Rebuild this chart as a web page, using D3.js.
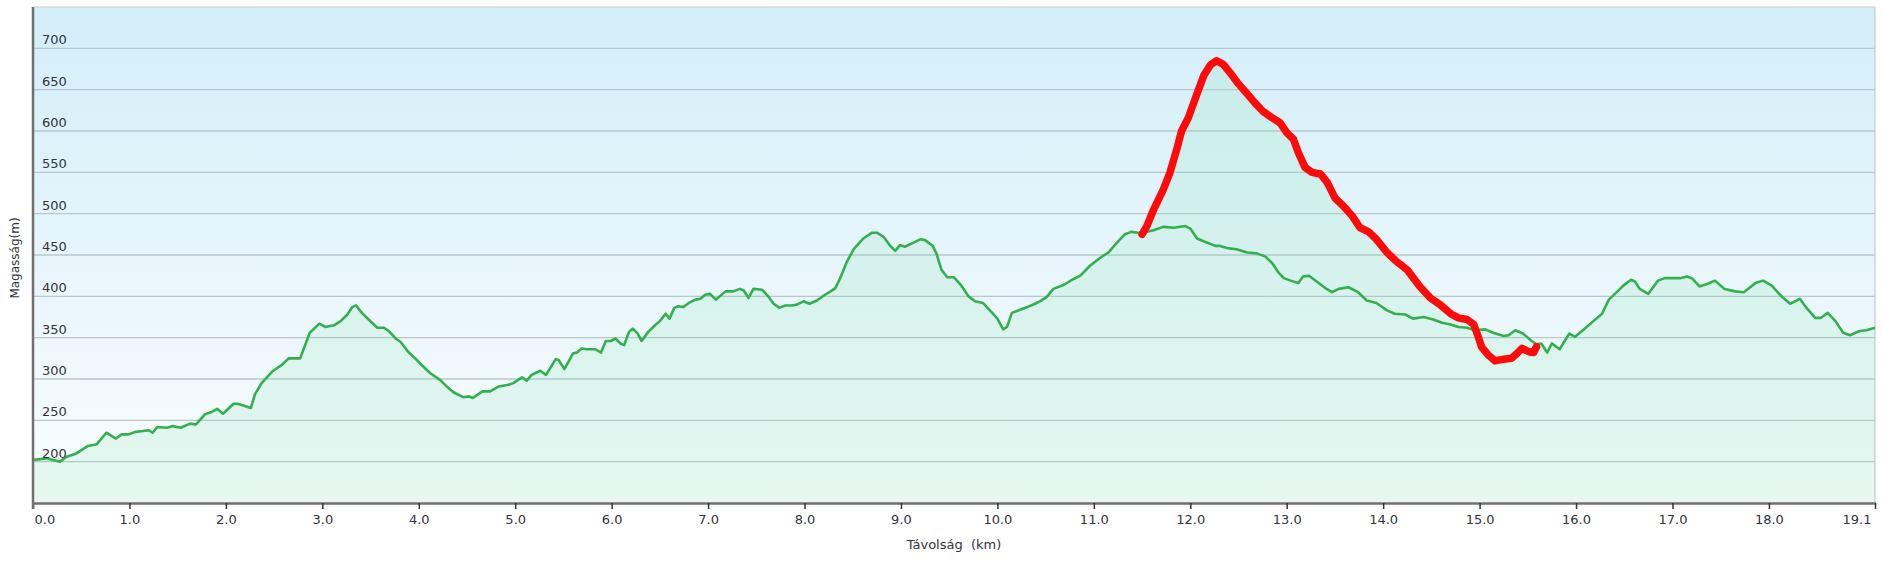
<!DOCTYPE html>
<html>
<head>
<meta charset="utf-8">
<script src="https://cdn.jsdelivr.net/npm/d3@7"></script>
<style>
  html, body { margin: 0; padding: 0; background: #ffffff; }
  svg { display: block; }
  text { font-family: "DejaVu Sans", Verdana, sans-serif; fill: #333340; }
</style>
</head>
<body>
<div id="chart"></div>
<script>
// ---- data ----
const greenKm = [0.00,0.14,0.28,0.35,0.45,0.57,0.66,0.76,0.86,0.92,0.99,1.06,1.14,1.20,1.24,1.29,1.39,1.45,1.53,1.63,1.69,1.78,1.85,1.91,1.97,2.08,2.12,2.18,2.26,2.30,2.37,2.49,2.58,2.65,2.70,2.77,2.87,2.97,3.03,3.12,3.19,3.26,3.31,3.35,3.41,3.48,3.57,3.64,3.69,3.76,3.81,3.89,3.98,4.03,4.12,4.22,4.29,4.36,4.46,4.52,4.56,4.66,4.74,4.83,4.93,4.98,5.07,5.12,5.17,5.26,5.32,5.42,5.45,5.51,5.60,5.64,5.69,5.74,5.83,5.89,5.94,5.99,6.04,6.09,6.13,6.18,6.22,6.27,6.31,6.38,6.45,6.50,6.56,6.60,6.65,6.69,6.74,6.80,6.87,6.92,6.97,7.02,7.08,7.18,7.26,7.33,7.37,7.42,7.47,7.56,7.63,7.68,7.74,7.80,7.87,7.92,7.99,8.05,8.13,8.20,8.27,8.32,8.37,8.44,8.51,8.61,8.70,8.75,8.82,8.89,8.94,8.99,9.04,9.13,9.20,9.25,9.33,9.37,9.42,9.48,9.55,9.62,9.70,9.77,9.85,9.93,10.00,10.06,10.10,10.15,10.24,10.31,10.39,10.44,10.51,10.58,10.69,10.79,10.86,10.96,11.07,11.15,11.24,11.32,11.39,11.46,11.55,11.62,11.72,11.83,11.95,12.00,12.07,12.15,12.26,12.31,12.40,12.48,12.59,12.69,12.78,12.85,12.92,12.97,13.04,13.12,13.17,13.23,13.31,13.40,13.47,13.54,13.64,13.74,13.83,13.93,14.04,14.12,14.23,14.31,14.42,14.52,14.61,14.70,14.78,14.87,14.95,15.06,15.14,15.25,15.30,15.37,15.45,15.54,15.59,15.64,15.70,15.75,15.83,15.93,15.99,16.08,16.18,16.27,16.34,16.43,16.49,16.57,16.61,16.66,16.75,16.85,16.92,17.08,17.15,17.20,17.28,17.36,17.44,17.54,17.65,17.74,17.86,17.94,18.03,18.13,18.22,18.32,18.39,18.48,18.54,18.61,18.69,18.77,18.84,18.94,19.01,19.10];
const greenElev = [202,204,200,206,210,219,221,235,228,233,233,236,237,238,235,242,241,243,241,246,245,257,260,264,258,270,270,268,265,281,295,310,317,325,325,325,356,367,363,365,370,378,387,389,380,372,362,362,358,349,345,333,323,317,307,299,291,284,278,279,277,285,285,291,293,295,302,298,305,310,305,324,323,312,331,332,337,336,336,332,346,346,349,343,341,357,361,355,346,357,365,370,379,373,386,388,387,392,396,397,402,403,396,406,406,409,407,398,409,408,399,391,386,389,389,390,394,391,395,401,406,410,422,442,457,470,477,477,472,461,455,462,460,465,469,468,461,451,432,423,423,414,400,394,392,382,373,360,363,380,384,387,391,394,399,409,414,421,425,437,447,453,465,475,478,477,478,480,484,483,485,482,470,466,461,461,458,457,453,452,448,440,428,422,419,416,424,425,418,410,405,409,411,405,395,392,383,379,378,373,375,372,368,366,363,362,359,360,356,352,353,359,355,346,342,343,332,343,336,355,351,360,370,379,396,406,413,420,418,409,403,419,422,422,424,422,412,415,419,409,406,405,416,419,413,400,391,397,386,374,374,380,370,356,353,358,359,362];

const redKm = [11.50,11.55,11.62,11.72,11.79,11.86,11.91,11.98,12.07,12.14,12.21,12.27,12.34,12.41,12.50,12.59,12.67,12.76,12.85,12.93,13.00,13.07,13.12,13.19,13.26,13.35,13.42,13.50,13.59,13.68,13.76,13.85,13.93,14.04,14.14,14.25,14.38,14.49,14.59,14.70,14.78,14.87,14.94,14.98,15.02,15.09,15.16,15.25,15.33,15.38,15.44,15.51,15.56,15.59];
const redElev = [475,485,505,529,550,578,600,616,645,667,680,685,681,671,657,645,634,623,616,610,598,590,574,556,550,548,538,519,509,497,483,478,469,453,442,432,412,398,390,379,374,372,366,353,339,329,322,324,325,330,337,333,332,339];

const xTickValues = [0,1,2,3,4,5,6,7,8,9,10,11,12,13,14,15,16,17,18,19.1];
const yTickValues = [200,250,300,350,400,450,500,550,600,650,700];
const xTitle = "Távolság  (km)";
const yTitle = "Magasság(m)";

// ---- layout ----
const W = 1882, H = 562;
const L = 33, R = 1875, T = 7, B = 503;

const svg = d3.select("#chart").append("svg").attr("width", W).attr("height", H);

const x = d3.scaleLinear().domain([0, 19.1]).range([L, R]);
const y = d3.scaleLinear().domain([150, 750]).range([B, T]);

const defs = svg.append("defs");
const bg = defs.append("linearGradient").attr("id", "bg").attr("x1", 0).attr("y1", 0).attr("x2", 0).attr("y2", 1);
bg.append("stop").attr("offset", "0%").attr("stop-color", "#d2eef9");
bg.append("stop").attr("offset", "100%").attr("stop-color", "#fbfdfe");

svg.append("rect").attr("x", L).attr("y", T).attr("width", R - L).attr("height", B - T).attr("fill", "url(#bg)");

// gridlines
svg.append("g").selectAll("line").data(yTickValues).join("line")
  .attr("x1", L).attr("x2", R)
  .attr("y1", d => y(d)).attr("y2", d => y(d))
  .attr("stroke", "#b9c7cc").attr("stroke-width", 1.3);

// borders
svg.append("line").attr("x1", L).attr("x2", R).attr("y1", T).attr("y2", T).attr("stroke", "#d6dadc").attr("stroke-width", 1.5);
svg.append("line").attr("x1", R).attr("x2", R).attr("y1", T).attr("y2", B).attr("stroke", "#cfd5d8").attr("stroke-width", 1.5);

const green = greenKm.map((k, i) => ({ k, e: greenElev[i] }));
const red = redKm.map((k, i) => ({ k, e: redElev[i] }));

// green elevation at any km (for the red-area baseline)
const greenAt = k => {
  const i = d3.bisector(d => d.k).left(green, k);
  if (i <= 0) return green[0].e;
  if (i >= green.length) return green[green.length - 1].e;
  const a = green[i - 1], b = green[i];
  return a.e + (b.e - a.e) * (k - a.k) / (b.k - a.k);
};

const area = d3.area().x(d => x(d.k)).y0(B).y1(d => y(d.e));
const redArea = d3.area().x(d => x(d.k)).y0(d => y(Math.min(greenAt(d.k), d.e))).y1(d => y(d.e));
const line = d3.line().x(d => x(d.k)).y(d => y(d.e));

svg.append("path").datum(green).attr("d", area).attr("fill", "#7fe0a8").attr("fill-opacity", 0.16);
svg.append("path").datum(red).attr("d", redArea).attr("fill", "#7fe0a8").attr("fill-opacity", 0.16);

svg.append("path").datum(green).attr("d", line).attr("fill", "none")
  .attr("stroke", "#33b04e").attr("stroke-width", 2.6).attr("stroke-linejoin", "round");
svg.append("path").datum(red).attr("d", line).attr("fill", "none")
  .attr("stroke", "#ff0a0a").attr("stroke-width", 7.5).attr("stroke-linejoin", "round").attr("stroke-linecap", "round");

// y labels inside plot
svg.append("g").selectAll("text").data(yTickValues).join("text")
  .attr("x", L + 9).attr("y", d => y(d) - 4)
  .attr("font-size", 13).text(d => d);

// x axis
const xAxis = d3.axisBottom(x).tickValues(xTickValues).tickFormat(d3.format(".1f")).tickSize(6).tickSizeOuter(0);
const gx = svg.append("g").attr("transform", `translate(0,${B})`).call(xAxis);
gx.select(".domain").attr("stroke", "#707070").attr("stroke-width", 2.5);
gx.selectAll(".tick line").attr("stroke", "#333").attr("stroke-width", 1.5);
gx.selectAll(".tick text").attr("font-size", 13).attr("font-family", "DejaVu Sans, Verdana, sans-serif").attr("fill", "#333340").attr("dy", "0.95em");
gx.selectAll(".tick").filter(d => d === 0).select("text").attr("text-anchor", "start").attr("x", 1);
gx.selectAll(".tick").filter(d => d === 19.1).select("text").attr("text-anchor", "end").attr("x", -4);

// left axis line
svg.append("line").attr("x1", L).attr("x2", L).attr("y1", T).attr("y2", B + 6).attr("stroke", "#707070").attr("stroke-width", 2.5);

// titles
svg.append("text").attr("x", (L + R) / 2).attr("y", 549).attr("text-anchor", "middle")
  .attr("font-size", 13).style("white-space", "pre").text(xTitle);
svg.append("text").attr("transform", `translate(19,258) rotate(-90)`).attr("text-anchor", "middle")
  .attr("font-size", 12).text(yTitle);
</script>
</body>
</html>
